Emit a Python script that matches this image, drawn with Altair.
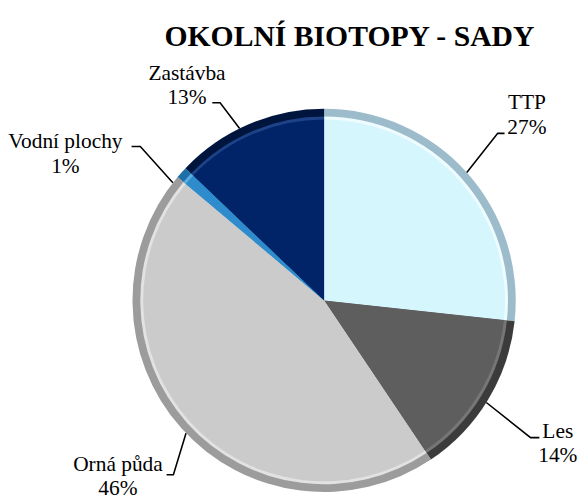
import math
import altair as alt
import pandas as pd

# ---- data ----
title_text = "OKOLNÍ BIOTOPY - SADY"
categories = ["TTP", "Les", "Orná půda", "Vodní plochy", "Zastávba"]
shares = [27, 14, 46, 1, 13]

# ---- styling / layout ----
colors_main = ["#d6f6fe", "#5e5e5e", "#cbcbcb", "#2e8ccc", "#002467"]
colors_hl = ["#effcff", "#767676", "#e2e2e2", "#5aaee0", "#1d4288"]
colors_rim = ["#9dbccb", "#3b3b3b", "#9c9c9c", "#1f6fa8", "#00153d"]
W, H = 570, 485
CX, CY = 317, 293          # pie centre inside the plot area
R_OUT, R_HL, R_IN = 197, 189, 186
R_LABEL = 282
LH = 25.5
FONT = "Liberation Serif"
# shift of each label block centre from the point at R_LABEL on the slice's mid angle
label_shift = {"TTP": (-1.5, -2.75), "Les": (-1, 0.75), "Orná půda": (-2, -7.5),
               "Vodní plochy": (-56, 37.75), "Zastávba": (-30, 38)}
attach_shift = {"TTP": 0, "Les": 1, "Orná půda": -2, "Vodní plochy": -4, "Zastávba": -3}
elbow_off = {"TTP": [(-30, 19.25), (-23, 19.25)], "Les": [(-28, -5.75), (-19, -5.75)],
             "Orná půda": [(57, -1.5), (50, -1.5)], "Vodní plochy": [(77, -7.75), (68, -7.75)],
             "Zastávba": [(34, 18), (26, 18)]}

total = sum(shares)
df = pd.DataFrame({
    "cat": categories,
    "share": shares,
    "idx": list(range(len(categories))),
    "label": [f"{c}\n{s}%" for c, s in zip(categories, shares)],
})

# mid angles (degrees, clockwise from 12 o'clock) derived from the data
mids = []
cum = 0
for s in shares:
    mids.append((cum + s / 2) / total * 360)
    cum += s

rows = []
for c, m in zip(categories, mids):
    a = math.radians(m)
    lx = CX + R_LABEL * math.sin(a) + label_shift[c][0]
    ly = CY - R_LABEL * math.cos(a) + label_shift[c][1]
    b = math.radians(m + attach_shift[c])
    pts = [(CX + R_OUT * math.sin(b), CY - R_OUT * math.cos(b))]
    for ox, oy in elbow_off[c]:
        pts.append((lx + ox, ly + oy))
    for k, (px, py) in enumerate(pts):
        rows.append({"cat": c, "k": k, "px": px, "py": py})
leaders = pd.DataFrame(rows)

theta = alt.Theta("share:Q", stack=True)
order = alt.Order("idx:Q")


def ring(radius, colors):
    return alt.Chart(df).mark_arc(outerRadius=radius).encode(
        theta=theta, order=order,
        color=alt.Color("cat:N", scale=alt.Scale(domain=categories, range=colors), legend=None),
        x=alt.value(CX), y=alt.value(CY),
    )


rim = ring(R_OUT, colors_rim)
hl = ring(R_HL, colors_hl)
main = ring(R_IN, colors_main)

label_layers = []
for c in categories:
    dx, dy = label_shift[c]
    label_layers.append(
        alt.Chart(df).mark_text(
            radius=R_LABEL, dx=dx, dy=dy - LH / 2, align="center", baseline="middle",
            lineBreak="\n", lineHeight=LH, font=FONT, fontSize=22, color="#000000",
        ).encode(
            theta=theta, order=order, detail="cat:N", text="label:N",
            opacity=alt.condition(f"datum.cat == '{c}'", alt.value(1), alt.value(0)),
            x=alt.value(CX), y=alt.value(CY),
        )
    )

lines = alt.Chart(leaders).mark_line(color="#000000", strokeWidth=1.6).encode(
    x=alt.X("px:Q", scale=None, axis=None),
    y=alt.Y("py:Q", scale=None, axis=None),
    detail="cat:N", order="k:Q",
)

title = alt.Chart(pd.DataFrame({"t": [title_text]})).mark_text(
    font=FONT, fontSize=30.5, fontWeight="bold", align="center", baseline="alphabetic", color="#000000",
).encode(text="t:N", x=alt.value(343), y=alt.value(31))

chart = alt.layer(rim, hl, main, lines, title, *label_layers).resolve_scale(
    color="independent"
).properties(width=W, height=H, padding=0).configure_view(stroke=None)

chart.save("out.html", embed_options={"renderer": "svg", "actions": False})
